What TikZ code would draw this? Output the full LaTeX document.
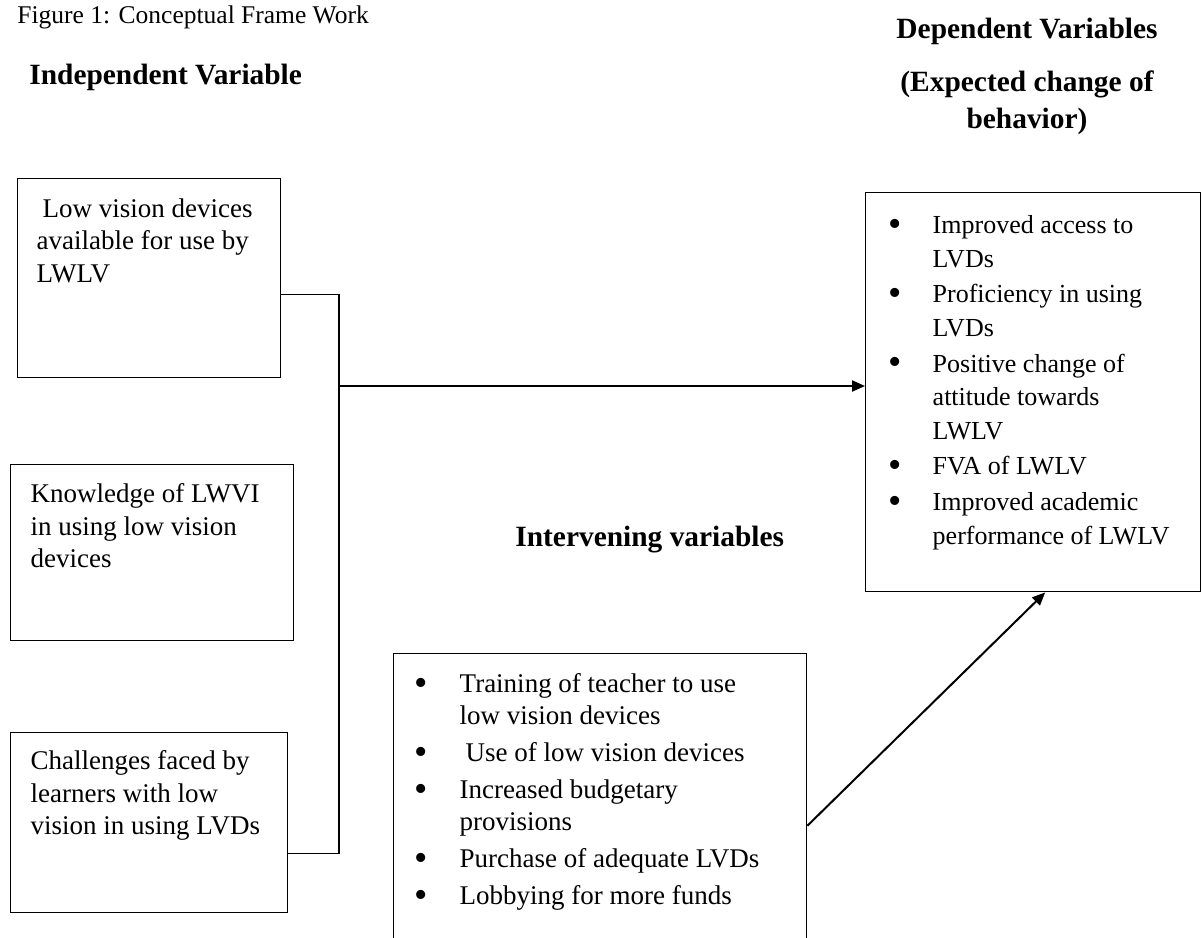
\documentclass[tikz,border=0pt]{standalone}
\usepackage{fontspec}
\setmainfont{Liberation Serif}
\usetikzlibrary{arrows.meta}

\newcommand{\pointitem}[2]{\par\noindent\hangindent=#1\hangafter=1%
  \makebox[#1][l]{\raisebox{-1.3pt}{\fontsize{19}{19}\selectfont\textbullet}}#2}

\begin{document}
\begin{tikzpicture}[x=0.5pt, y=-0.5pt, >={Triangle[length=6.5pt,width=5.5pt]},
  varbox/.style={draw, line width=0.7pt, anchor=north west, inner xsep=10pt, inner ysep=9.5pt,
    font=\fontsize{13.5}{16.25}\selectfont},
  heading/.style={font=\fontsize{14.7}{18.5}\selectfont\bfseries, inner sep=0pt}]
\clip (0,0) rectangle (1202,937);
% headings
\node[anchor=base west, inner sep=0pt, font=\fontsize{12.75}{15}\selectfont] (title) at (17,23) {Figure 1: Conceptual Frame Work};
\node[heading, anchor=base west] (indep) at (29,84) {Independent Variable};
\node[heading, anchor=base] (dep) at (1027,38) {Dependent Variables};
\node[heading, anchor=north, align=center] (expect) at (1027,70) {(Expected change of\\behavior)};
\node[heading, anchor=base west] (interv) at (515,546) {Intervening variables};
% independent variables
\node[varbox, inner xsep=9.5pt, inner ysep=10pt] (a) at (17,178) {\parbox[t][79.5pt][t]{112.5pt}{\raggedright
  \hspace*{3pt}Low vision devices\\available for use by\\LWLV}};
\node[varbox] (b) at (10,464) {\parbox[t][69pt][t]{121.5pt}{\raggedright
  Knowledge of LWVI\\in using low vision\\devices}};
\node[varbox, inner ysep=9pt] (c) at (10,732) {\parbox[t][72pt][t]{118.5pt}{\raggedright
  Challenges faced by\\learners with low\\vision in using LVDs}};
% dependent variables
\node[varbox, inner xsep=11.5pt, inner ysep=11.5pt, font=\fontsize{13}{16.8}\selectfont] (d) at (865,192) {\parbox[t][176.5pt][t]{144.5pt}{\raggedright\parskip=1pt
  \pointitem{22pt}{Improved access to\newline LVDs}
  \pointitem{22pt}{Proficiency in using\newline LVDs}
  \pointitem{22pt}{Positive change of\newline attitude towards\newline LWLV}
  \pointitem{22pt}{FVA of LWLV}
  \pointitem{22pt}{Improved academic\newline performance of LWLV}}};
% intervening variables
\node[varbox, inner xsep=10.5pt, inner ysep=10pt, font=\fontsize{13.5}{16}\selectfont] (e) at (393,653) {\parbox[t][126pt][t]{185.5pt}{\raggedright\parskip=2.5pt
  \pointitem{22.5pt}{Training of teacher to use\newline low vision devices}
  \pointitem{22.5pt}{\hspace*{3pt}Use of low vision devices}
  \pointitem{22.5pt}{Increased budgetary\newline provisions}
  \pointitem{22.5pt}{Purchase of adequate LVDs}
  \pointitem{22.5pt}{Lobbying for more funds}}};
% connectors
\coordinate (join) at (339,386);
\draw[line width=0.6pt] ([yshift=-8pt]a.east) -| (join) |- ([yshift=-15.5pt]c.east);
\draw[->, line width=1pt] (join) -- (d.west |- join);
\draw[->, line width=1pt] ([yshift=-13pt]e.east) -- ([xshift=6pt]d.south);
\end{tikzpicture}
\end{document}
